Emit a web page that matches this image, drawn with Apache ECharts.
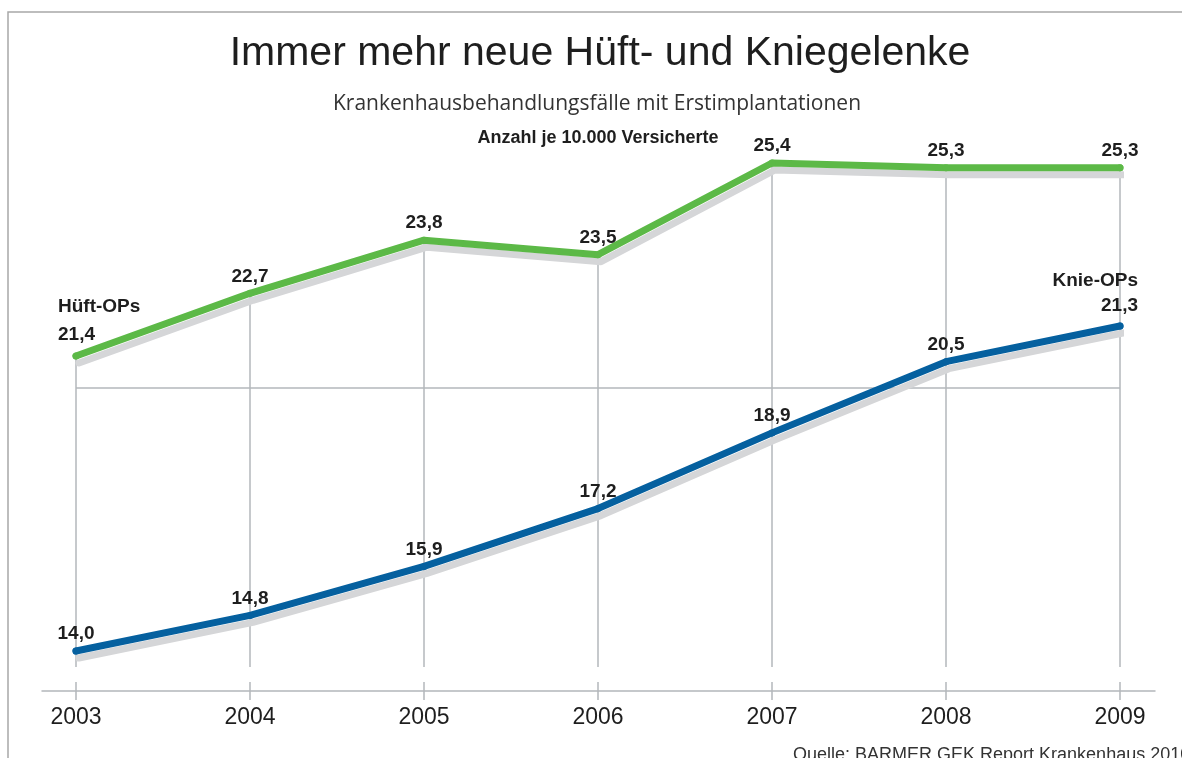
<!DOCTYPE html>
<html><head><meta charset="utf-8">
<script src="https://cdn.jsdelivr.net/npm/echarts@6/dist/echarts.min.js"></script>
<style>html,body{margin:0;padding:0;background:#fff}#c{width:1182px;height:758px}</style>
</head><body><div id="c"></div>
<script>
const years = ['2003', '2004', '2005', '2006', '2007', '2008', '2009'];
const hueftOPs = [21.4, 22.7, 23.8, 23.5, 25.4, 25.3, 25.3];
const knieOPs = [14.0, 14.8, 15.9, 17.2, 18.9, 20.5, 21.3];
const seriesNames = ['Hüft-OPs', 'Knie-OPs'];
const titleText = 'Immer mehr neue Hüft- und Kniegelenke';
const subtitleText = 'Krankenhausbehandlungsfälle mit Erstimplantationen';
const unitText = 'Anzahl je 10.000 Versicherte';
const sourceText = 'Quelle: BARMER GEK Report Krankenhaus 2010';

const GREEN = '#5cb947';
const BLUE = '#05609f';
const GRID_GRAY = '#b3b7bb';
const TXT = '#1e1e1e';
const fmt = v => v.toFixed(1).replace('.', ',');

const chart = echarts.init(document.getElementById('c'), null, {renderer: 'canvas'});

const labelBase = {
  show: true, position: 'top', distance: 4,
  fontFamily: 'Liberation Sans', fontWeight: 'bold', fontSize: 19, color: TXT
};

const hueftData = hueftOPs.map((v, i) => i === 0
  ? {value: v, label: {align: 'left', offset: [-18, 0], lineHeight: 28, formatter: seriesNames[0] + '\n' + fmt(v)}}
  : v);
const knieData = knieOPs.map((v, i) => i === knieOPs.length - 1
  ? {value: v, label: {align: 'right', offset: [18, 0], lineHeight: 25, formatter: seriesNames[1] + '\n' + fmt(v)}}
  : v);

const lineCommon = {
  type: 'line', xAxisIndex: 0, symbol: 'circle', symbolSize: 7, z: 5,
  smooth: false, animation: false
};

const option = {
  backgroundColor: '#fff',
  animation: false,
  title: [
    {text: titleText, left: 600, top: 33, textAlign: 'center', padding: 0,
     textStyle: {fontFamily: 'Liberation Sans', fontWeight: 'normal', fontSize: 41, color: TXT}},
    {text: subtitleText, left: 597, top: 94, textAlign: 'center', padding: 0,
     textStyle: {fontFamily: 'Open Sans', fontWeight: 'normal', fontSize: 21, color: '#333'}},
    {text: unitText, left: 598, top: 129, textAlign: 'center', padding: 0,
     textStyle: {fontFamily: 'Liberation Sans', fontWeight: 'bold', fontSize: 18, color: TXT}},
    {text: sourceText, left: 793, top: 746, padding: 0,
     textStyle: {fontFamily: 'Liberation Sans', fontWeight: 'normal', fontSize: 18, color: '#333'}}
  ],
  graphic: [{
    type: 'polyline', silent: true,
    shape: {points: [[8, 758], [8, 12], [1182, 12]]},
    style: {stroke: '#a8a8a8', lineWidth: 1.5, fill: null}
  }],
  grid: [
    {left: 76, right: 62, top: 85, bottom: 67},
    {left: 42, right: 27, top: 85, bottom: 67}
  ],
  xAxis: [
    {gridIndex: 0, type: 'category', data: years, boundaryGap: false,
     axisLine: {show: false},
     axisTick: {show: true, length: 9, interval: 0, lineStyle: {color: GRID_GRAY, width: 1.5}},
     axisLabel: {margin: 15, interval: 0, fontFamily: 'Liberation Sans', fontSize: 23, color: TXT},
     splitLine: {show: false}},
    {gridIndex: 1, type: 'value', min: 0, max: 1,
     axisLine: {show: true, onZero: false, lineStyle: {color: GRID_GRAY, width: 1.5}},
     axisTick: {show: false}, axisLabel: {show: false}, splitLine: {show: false}}
  ],
  yAxis: [
    {gridIndex: 0, type: 'value', min: 13.102, max: 26.714, show: false},
    {gridIndex: 0, type: 'value', min: 14.457, max: 27.017, show: false},
    {gridIndex: 0, type: 'value', min: 0, max: 2, interval: 1,
     axisLine: {show: false}, axisTick: {show: false}, axisLabel: {show: false},
     splitLine: {show: true, lineStyle: {color: ['rgba(0,0,0,0)', GRID_GRAY, 'rgba(0,0,0,0)'], width: 1.5}}},
    {gridIndex: 1, type: 'value', show: false}
  ],
  series: [
    {
      type: 'custom', xAxisIndex: 0, yAxisIndex: 1, z: 1, silent: true,
      data: hueftOPs.map((v, i) => [years[i], v]),
      encode: {x: 0, y: 1},
      renderItem: (params, api) => {
        const p = api.coord([api.value(0), api.value(1)]);
        const cs = params.coordSys;
        const bottom = cs.y + cs.height;
        const st = {stroke: GRID_GRAY, lineWidth: 1.5};
        return {type: 'group', children: [
          {type: 'line', shape: {x1: p[0], y1: p[1], x2: p[0], y2: bottom - 24}, style: st},
          {type: 'line', shape: {x1: p[0], y1: bottom - 9, x2: p[0], y2: bottom}, style: st}
        ]};
      }
    },
    Object.assign({}, lineCommon, {
      name: seriesNames[0], yAxisIndex: 1, data: hueftData,
      itemStyle: {color: GREEN},
      lineStyle: {color: GREEN, width: 7, cap: 'round', join: 'round',
        shadowColor: '#d5d6d8', shadowBlur: 0, shadowOffsetX: 3, shadowOffsetY: 7},
      label: Object.assign({}, labelBase, {formatter: p => fmt(p.value)})
    }),
    Object.assign({}, lineCommon, {
      name: seriesNames[1], yAxisIndex: 0, data: knieData,
      itemStyle: {color: BLUE},
      lineStyle: {color: BLUE, width: 7, cap: 'round', join: 'round',
        shadowColor: '#d5d6d8', shadowBlur: 0, shadowOffsetX: 3, shadowOffsetY: 7},
      label: Object.assign({}, labelBase, {formatter: p => fmt(p.value)})
    })
  ]
};
chart.setOption(option);
</script>
</body></html>
